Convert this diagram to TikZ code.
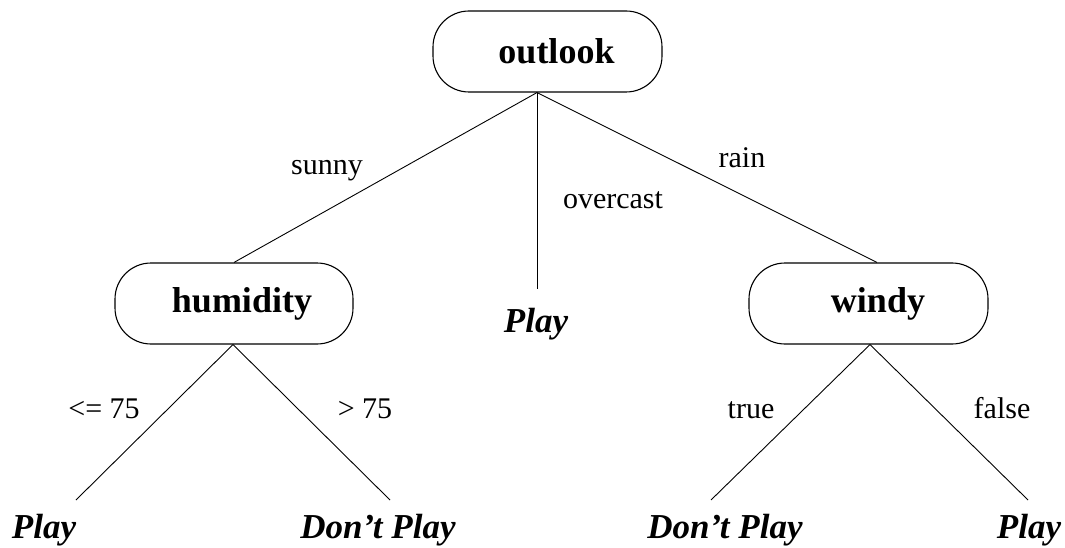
\documentclass[tikz,border=0pt]{standalone}
\usepackage{fontspec}
\setmainfont{Liberation Serif}
\begin{document}
\begin{tikzpicture}[x=1pt,y=-1pt,
  box/.style={draw, line width=1.1pt, rounded corners=36pt, minimum width=229pt, minimum height=81pt, inner sep=0pt, font=\fontsize{36}{40}\selectfont\bfseries},
  leaf/.style={inner sep=0pt, anchor=base, font=\fontsize{35}{39}\selectfont\bfseries\itshape},
  lab/.style={inner sep=0pt, anchor=base, font=\fontsize{30}{34}\selectfont},
  edge/.style={line width=0.9pt}]
\useasboundingbox (0,0) rectangle (1065,548);
% decision nodes
\node[box] (outlook) at (547.5,51.5) {\hspace*{18pt}outlook};
\node[box, minimum width=238pt] (humidity) at (234,303.5) {\hspace*{16pt}humidity};
\node[box, minimum width=239pt] (windy) at (868.5,303.5) {\hspace*{19pt}windy};
% leaves
\node[leaf] (pm) at (536,332) {Play};
\node[leaf] (p1) at (44,538) {Play};
\node[leaf] (d1) at (378,538) {Don't Play};
\node[leaf] (d2) at (725,538) {Don't Play};
\node[leaf] (p2) at (1029,538) {Play};
% leaf line ends
\coordinate (e1) at (76,500);
\coordinate (e2) at (390,500);
\coordinate (e3) at (711,500);
\coordinate (e4) at (1028,500);
% edges
\draw[edge] ([xshift=-10.5pt]outlook.south) -- (humidity.north);
\draw[edge] ([xshift=-10.5pt]outlook.south) -- ([xshift=1pt,yshift=19pt]pm.north);
\draw[edge] ([xshift=-10.5pt]outlook.south) -- ([xshift=8.5pt]windy.north);
\draw[edge] ([xshift=-1pt]humidity.south) -- (e1);
\draw[edge] ([xshift=-1pt]humidity.south) -- (e2);
\draw[edge] ([xshift=1.5pt]windy.south) -- (e3);
\draw[edge] ([xshift=1.5pt]windy.south) -- (e4);
% edge labels
\node[lab] (lsunny) at (327,175) {sunny};
\node[lab] (lover) at (613,208) {overcast};
\node[lab] (lrain) at (742,168) {rain};
\node[lab] (lle) at (104,418) {<= 75};
\node[lab] (lgt) at (365,418) {> 75};
\node[lab] (ltrue) at (751,418) {true};
\node[lab] (lfalse) at (1002,418) {false};
\end{tikzpicture}
\end{document}
